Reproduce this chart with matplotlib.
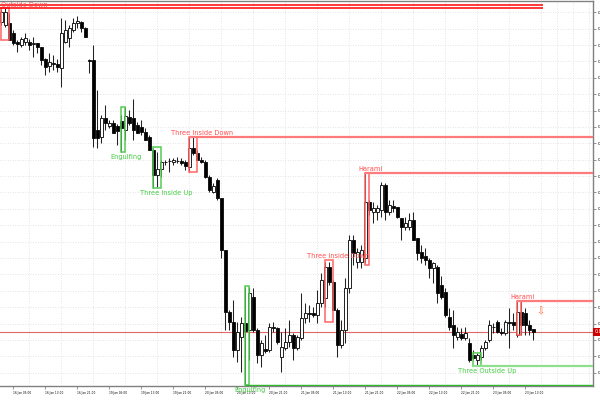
import matplotlib
matplotlib.use("Agg")
import matplotlib.pyplot as plt
import numpy as np
from matplotlib.patches import Rectangle

# hourly bars
opens = [0.82341, 0.82322, 0.82335, 0.82274, 0.82219, 0.82200, 0.82219, 0.82219, 0.82206, 0.82213,
         0.82188, 0.82115, 0.82072, 0.82090, 0.82084, 0.82060, 0.82219, 0.82243, 0.82292, 0.82335,
         0.82341, 0.82304, 0.82109, 0.82109, 0.81681, 0.81639, 0.81755, 0.81706, 0.81724, 0.81706,
         0.81736, 0.81681, 0.81761, 0.81755, 0.81712, 0.81700, 0.81669, 0.81639, 0.81559, 0.81407,
         0.81443, 0.81486, 0.81492, 0.81486, 0.81492, 0.81492, 0.81486, 0.81456, 0.81572, 0.81541,
         0.81498, 0.81486, 0.81394, 0.81303, 0.81376, 0.81266, 0.80949, 0.80570, 0.80509, 0.80338,
         0.80418, 0.80503, 0.80460, 0.80662, 0.80460, 0.80308, 0.80344, 0.80338, 0.80479, 0.80473,
         0.80295, 0.80350, 0.80387, 0.80430, 0.80350, 0.80411, 0.80534, 0.80564, 0.80564, 0.80552,
         0.80625, 0.80656, 0.80845, 0.80753, 0.80582, 0.80369, 0.80460, 0.80717, 0.81010, 0.80876,
         0.80876, 0.80900, 0.81242, 0.81181, 0.81181, 0.81193, 0.81346, 0.81181, 0.81217, 0.81211,
         0.81144, 0.81089, 0.81089, 0.81132, 0.81022, 0.80937, 0.80912, 0.80888, 0.80839, 0.80845,
         0.80735, 0.80692, 0.80540, 0.80491, 0.80418, 0.80436, 0.80411, 0.80381, 0.80308, 0.80277,
         0.80295, 0.80350, 0.80399, 0.80479, 0.80509, 0.80448, 0.80442, 0.80509, 0.80509, 0.80430,
         0.80570, 0.80564, 0.80491, 0.80467]
highs = [0.82420, 0.82426, 0.82396, 0.82292, 0.82231, 0.82249, 0.82274, 0.82237, 0.82249, 0.82213,
         0.82188, 0.82121, 0.82151, 0.82139, 0.82115, 0.82365, 0.82353, 0.82322, 0.82365, 0.82377,
         0.82347, 0.82310, 0.82115, 0.82200, 0.81926, 0.81773, 0.81834, 0.81742, 0.81742, 0.81718,
         0.81773, 0.81822, 0.81803, 0.81871, 0.81730, 0.81742, 0.81694, 0.81651, 0.81572, 0.81547,
         0.81498, 0.81498, 0.81510, 0.81510, 0.81517, 0.81510, 0.81498, 0.81639, 0.81639, 0.81559,
         0.81517, 0.81498, 0.81407, 0.81358, 0.81388, 0.81266, 0.80949, 0.80582, 0.80644, 0.80509,
         0.80540, 0.80723, 0.80723, 0.80717, 0.80473, 0.80399, 0.80430, 0.80503, 0.80509, 0.80479,
         0.80448, 0.80473, 0.80521, 0.80442, 0.80430, 0.80686, 0.80625, 0.80613, 0.80601, 0.80705,
         0.80808, 0.80876, 0.80876, 0.80766, 0.80595, 0.80521, 0.80778, 0.81040, 0.81040, 0.80961,
         0.80979, 0.81419, 0.81254, 0.81242, 0.81223, 0.81364, 0.81358, 0.81254, 0.81254, 0.81211,
         0.81144, 0.81150, 0.81175, 0.81181, 0.81022, 0.80979, 0.80961, 0.80900, 0.80876, 0.80857,
         0.80790, 0.80717, 0.80595, 0.80582, 0.80479, 0.80473, 0.80479, 0.80411, 0.80338, 0.80320,
         0.80369, 0.80399, 0.80521, 0.80503, 0.80521, 0.80473, 0.80521, 0.80595, 0.80564, 0.80644,
         0.80644, 0.80595, 0.80521, 0.80467]
lows = [0.82322, 0.82310, 0.82231, 0.82200, 0.82158, 0.82188, 0.82200, 0.82170, 0.82127, 0.82151,
        0.82078, 0.82017, 0.82035, 0.82048, 0.82035, 0.81944, 0.82213, 0.82188, 0.82280, 0.82304,
        0.82280, 0.82249, 0.82029, 0.81578, 0.81572, 0.81602, 0.81681, 0.81694, 0.81663, 0.81590,
        0.81547, 0.81620, 0.81712, 0.81620, 0.81663, 0.81651, 0.81620, 0.81559, 0.81327, 0.81333,
        0.81394, 0.81468, 0.81425, 0.81468, 0.81480, 0.81468, 0.81437, 0.81425, 0.81529, 0.81498,
        0.81480, 0.81388, 0.81303, 0.81297, 0.81254, 0.80900, 0.80460, 0.80460, 0.80295, 0.80265,
        0.80204, 0.80125, 0.80277, 0.80448, 0.80259, 0.80234, 0.80320, 0.80326, 0.80448, 0.80375,
        0.80204, 0.80338, 0.80357, 0.80277, 0.80338, 0.80399, 0.80503, 0.80509, 0.80540, 0.80503,
        0.80601, 0.80601, 0.80735, 0.80582, 0.80295, 0.80350, 0.80381, 0.80686, 0.80857, 0.80839,
        0.80839, 0.80869, 0.81162, 0.81114, 0.81132, 0.81150, 0.81132, 0.81162, 0.81181, 0.81144,
        0.81010, 0.81071, 0.81071, 0.81010, 0.80888, 0.80869, 0.80857, 0.80778, 0.80747, 0.80625,
        0.80650, 0.80540, 0.80460, 0.80350, 0.80399, 0.80399, 0.80399, 0.80265, 0.80277, 0.80247,
        0.80277, 0.80338, 0.80387, 0.80442, 0.80442, 0.80430, 0.80430, 0.80350, 0.80460, 0.80418,
        0.80430, 0.80430, 0.80430, 0.80399]
closes = [0.82402, 0.82402, 0.82231, 0.82213, 0.82206, 0.82237, 0.82243, 0.82200, 0.82213, 0.82188,
          0.82109, 0.82066, 0.82097, 0.82087, 0.82066, 0.82274, 0.82292, 0.82304, 0.82335, 0.82347,
          0.82304, 0.82249, 0.82103, 0.81633, 0.81633, 0.81755, 0.81724, 0.81724, 0.81663, 0.81675,
          0.81694, 0.81767, 0.81724, 0.81681, 0.81663, 0.81669, 0.81620, 0.81559, 0.81407, 0.81443,
          0.81486, 0.81485, 0.81491, 0.81498, 0.81491, 0.81480, 0.81462, 0.81572, 0.81541, 0.81498,
          0.81486, 0.81394, 0.81315, 0.81340, 0.81266, 0.80949, 0.80570, 0.80509, 0.80338, 0.80448,
          0.80503, 0.80454, 0.80686, 0.80460, 0.80308, 0.80381, 0.80332, 0.80479, 0.80473, 0.80387,
          0.80357, 0.80387, 0.80430, 0.80350, 0.80418, 0.80534, 0.80564, 0.80561, 0.80552, 0.80625,
          0.80766, 0.80845, 0.80753, 0.80582, 0.80369, 0.80460, 0.80717, 0.81010, 0.80930, 0.80937,
          0.80949, 0.81242, 0.81193, 0.81205, 0.81205, 0.81346, 0.81181, 0.81223, 0.81205, 0.81150,
          0.81089, 0.81114, 0.81132, 0.81010, 0.80930, 0.80900, 0.80888, 0.80839, 0.80869, 0.80686,
          0.80662, 0.80552, 0.80479, 0.80430, 0.80448, 0.80411, 0.80442, 0.80277, 0.80289, 0.80308,
          0.80350, 0.80387, 0.80491, 0.80476, 0.80448, 0.80442, 0.80509, 0.80503, 0.80491, 0.80570,
          0.80491, 0.80491, 0.80460, 0.80450]

time_labels = ["15 Jan 21:00", "16 Jan 05:00", "16 Jan 13:00", "16 Jan 21:00", "19 Jan 05:00",
               "19 Jan 13:00", "19 Jan 21:00", "20 Jan 05:00", "20 Jan 13:00", "20 Jan 21:00",
               "21 Jan 05:00", "21 Jan 13:00", "21 Jan 21:00", "22 Jan 05:00", "22 Jan 13:00",
               "22 Jan 21:00", "23 Jan 05:00", "23 Jan 13:00"]
first_label_bar = -5

# candlestick patterns found on the chart
pat_names = ["Outside Down", "Engulfing", "Three Inside Up", "Three Inside Down", "Engulfing",
             "Three Inside Down", "Harami", "Three Outside Up", "Harami"]
pat_start = [0, 30, 38, 47, 61, 81, 91, 118, 129]
pat_end = [2, 31, 40, 49, 62, 83, 92, 120, 130]
pat_top = [0.82424, 0.81822, 0.81578, 0.81639, 0.80729, 0.80888, 0.81419, 0.80320, 0.80637]
pat_bottom = [0.82231, 0.81547, 0.81327, 0.81425, 0.80125, 0.80509, 0.80857, 0.80241, 0.80430]
pat_bull = [False, True, True, False, True, False, False, True, False]
pat_label_bar = [5.7, 31.2, 41.2, 50.2, 62.2, 84.2, 92.2, 121.4, 130.2]
pat_has_level = [True, False, False, True, True, False, True, True, True]
extra_level = 0.82444

RED = "#ff6464"
GREEN = "#55cc55"

fig = plt.figure(figsize=(6, 4), dpi=100)
ax = fig.add_axes([0, 14 / 400, 593 / 600, 385 / 400])
x0, x1 = -0.33, 147.93

n = len(opens)
for i in range(n):
    ax.vlines(i, lows[i], highs[i], color="#222222", lw=0.75, zorder=3)
    lo = min(opens[i], closes[i])
    hgt = abs(closes[i] - opens[i])
    fc = "white" if closes[i] >= opens[i] else "black"
    ax.add_patch(Rectangle((i - 0.37, lo), 0.74, hgt, facecolor=fc, edgecolor="#111111",
                           lw=0.65, zorder=4))

# pattern boxes, labels and level lines
for k in range(len(pat_names)):
    col = GREEN if pat_bull[k] else RED
    ax.add_patch(Rectangle((pat_start[k], pat_bottom[k]), pat_end[k] - pat_start[k],
                           pat_top[k] - pat_bottom[k], fill=False, edgecolor=col, lw=1.1, zorder=5))
    if pat_bull[k]:
        ax.annotate(pat_names[k], (pat_label_bar[k], pat_bottom[k]), xytext=(0, -1.2),
                    textcoords="offset points", ha="center", va="top", fontsize=4.8,
                    color="#44cc44", zorder=6, annotation_clip=False)
    else:
        ax.annotate(pat_names[k], (pat_label_bar[k], pat_top[k]), xytext=(0, 0.6),
                    textcoords="offset points", ha="center", va="bottom", fontsize=4.8,
                    color="#ff5050", zorder=6, annotation_clip=False)
    if pat_has_level[k]:
        if k == 0:
            ax.hlines(pat_top[k], x0, 135.4, color="#ff0000", lw=1.1, zorder=5)
        elif k == 4:
            ax.hlines(pat_bottom[k], pat_start[k], x1, color="#2db82d", lw=1.0, zorder=5)
        elif pat_bull[k]:
            ax.hlines(pat_bottom[k], pat_start[k], x1, color="#8ee08e", lw=1.6, zorder=5)
        else:
            ax.hlines(pat_top[k], pat_start[k], x1, color="#ff7b7b", lw=1.6, zorder=5)
ax.hlines(extra_level, x0, 135.4, color="#ff0000", lw=1.1, zorder=5)

# current bid line and price tag
ax.axhline(closes[-1], color="#e06868", lw=0.8, zorder=2)
ax.annotate(f"{closes[-1]:.4f}", xy=(1, closes[-1]), xycoords=("axes fraction", "data"),
            xytext=(1.2, 0), textcoords="offset points", ha="left", va="center", fontsize=3.5,
            color="white", bbox=dict(boxstyle="square,pad=0.3", fc="#cc0000", ec="none"),
            annotation_clip=False)
ax.text(134.7, 0.80576, "\u21e9", color="#ff6a3a", fontsize=7, ha="center", va="center", zorder=6)

# axes styling
ax.yaxis.tick_right()
yt = np.round(np.arange(0.8020, 0.82405, 0.001), 4)
ax.set_yticks(yt)
ax.set_yticklabels([f"{v:.4f}" for v in yt])
ax.tick_params(axis="y", length=2.5, width=0.6, color="#808080", labelsize=3, pad=1)

xt = [first_label_bar + 8 * j for j in range(len(time_labels))]
ax.set_xticks(xt[1:])
ax.set_xticklabels(time_labels[1:])
for lab in ax.get_xticklabels():
    lab.set_ha("left")
ax.tick_params(axis="x", length=2.5, width=0.6, color="#808080", labelsize=2.1, pad=0.8)
# first label sits left of the view, only its tail shows
ax.annotate(time_labels[0], xy=(xt[0], 0), xycoords=("data", "axes fraction"),
            xytext=(0, -3.3), textcoords="offset points", ha="left", va="top", fontsize=2.1,
            annotation_clip=False)
ax.set_xticks(np.arange(-1, 148, 4), minor=True)
ax.tick_params(which="minor", length=0)

ax.set_xlim(x0, x1)
ax.set_ylim(0.801185, 0.824689)

ax.grid(which="minor", axis="x", color="#dcdcdc", lw=0.6, linestyle=(0, (1, 2)), zorder=0)
ax.grid(which="major", axis="y", color="#dcdcdc", lw=0.6, linestyle=(0, (1, 2)), zorder=0)
ax.set_axisbelow(True)

for s in ["top", "right", "bottom"]:
    ax.spines[s].set_color("#808080")
    ax.spines[s].set_linewidth(1.0)
ax.spines["left"].set_visible(False)

fig.savefig("out.png", dpi=100)
